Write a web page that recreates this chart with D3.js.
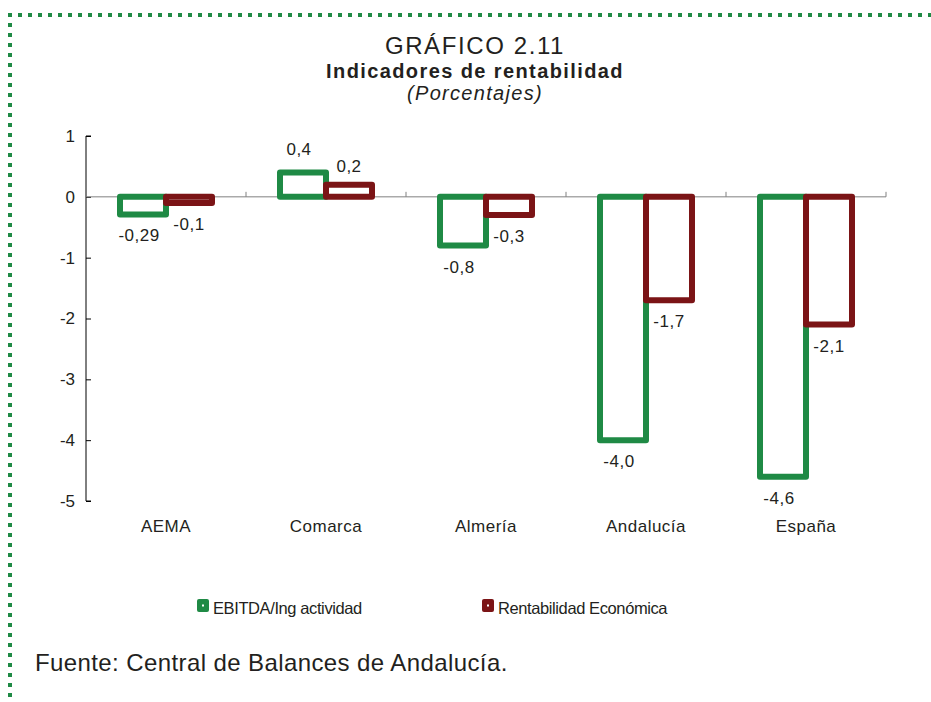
<!DOCTYPE html>
<html>
<head>
<meta charset="utf-8">
<script src="https://cdn.jsdelivr.net/npm/d3@7"></script>
<style>
  html, body { margin: 0; padding: 0; background: #fff; }
  svg { display: block; font-family: "Liberation Sans", Arial, sans-serif; }
</style>
</head>
<body>
<svg id="chart" width="931" height="702"></svg>
<script>
// Categories, series and values
const categories = ["AEMA", "Comarca", "Almería", "Andalucía", "España"];
const seriesNames = ["EBITDA/Ing actividad", "Rentabilidad Económica"];
const ebitda = [-0.29, 0.4, -0.8, -4.0, -4.6];
const rentabilidad = [-0.1, 0.2, -0.3, -1.7, -2.1];
const valueLabelsEbitda = ["-0,29", "0,4", "-0,8", "-4,0", "-4,6"];
const valueLabelsRent = ["-0,1", "0,2", "-0,3", "-1,7", "-2,1"];
const yTicks = [1, 0, -1, -2, -3, -4, -5];

const colors = ["#1f8a45", "#7b1416"];
const textColor = "#231f20";
const svg = d3.select("#chart");

// Dotted frame (top and left)
svg.append("line").attr("x1", 8).attr("x2", 931).attr("y1", 15).attr("y2", 15)
  .attr("stroke", colors[0]).attr("stroke-width", 4).attr("stroke-dasharray", "4 6");
svg.append("line").attr("x1", 10).attr("x2", 10).attr("y1", 13).attr("y2", 702)
  .attr("stroke", colors[0]).attr("stroke-width", 4).attr("stroke-dasharray", "4 6");

// Titles
const cx = 475;
svg.append("text").attr("x", cx).attr("y", 54).attr("text-anchor", "middle")
  .attr("font-size", 24).attr("letter-spacing", 1.6).attr("fill", textColor)
  .text("GRÁFICO 2.11");
svg.append("text").attr("x", cx).attr("y", 78).attr("text-anchor", "middle")
  .attr("font-size", 20).attr("font-weight", "bold").attr("letter-spacing", 1.4).attr("fill", textColor)
  .text("Indicadores de rentabilidad");
svg.append("text").attr("x", cx).attr("y", 100).attr("text-anchor", "middle")
  .attr("font-size", 20).attr("font-style", "italic").attr("letter-spacing", 1.3).attr("fill", textColor)
  .text("(Porcentajes)");

// Scales
const x0 = d3.scaleBand().domain(categories).range([86, 886]).padding(0);
const x1 = d3.scaleBand().domain(seriesNames).range([34, 126]).padding(0);
const y = d3.scaleLinear().domain([-5, 1]).range([501, 136]);

// Y axis (ticks pointing into the plot)
const yAxis = d3.axisRight(y).tickValues(yTicks).tickSize(5).tickFormat(d => String(d));
const gy = svg.append("g").attr("transform", "translate(86,0)").call(yAxis);
gy.select(".domain").attr("stroke", "#000").attr("d", `M5,${y(1)}H0V${y(-5)}H5`);
gy.selectAll(".tick line").attr("stroke", "#000");
gy.selectAll(".tick text").attr("x", -11).attr("text-anchor", "end")
  .attr("font-size", 17).attr("fill", textColor).attr("font-family", "Liberation Sans, Arial, sans-serif");

// Zero line with category separators
svg.append("line").attr("x1", 86).attr("x2", 886).attr("y1", y(0)).attr("y2", y(0))
  .attr("stroke", "#808080").attr("stroke-width", 1);
svg.append("g").selectAll("line").data(categories).join("line")
  .attr("x1", d => x0(d) + x0.bandwidth()).attr("x2", d => x0(d) + x0.bandwidth())
  .attr("y1", y(0)).attr("y2", y(0) - 5).attr("stroke", "#808080");

// Bars (hollow, thick outline)
const rows = categories.map((c, i) => ({
  cat: c,
  vals: [
    { s: seriesNames[0], v: ebitda[i], lab: valueLabelsEbitda[i], k: 0 },
    { s: seriesNames[1], v: rentabilidad[i], lab: valueLabelsRent[i], k: 1 }
  ]
}));

const groups = svg.append("g").selectAll("g").data(rows).join("g")
  .attr("transform", d => `translate(${x0(d.cat)},0)`);

groups.selectAll("rect").data(d => d.vals).join("rect")
  .attr("x", d => x1(d.s))
  .attr("width", x1.bandwidth())
  .attr("y", d => y(Math.max(0, d.v)))
  .attr("height", d => Math.abs(y(d.v) - y(0)))
  .attr("fill", "none")
  .attr("stroke", d => colors[d.k])
  .attr("stroke-width", 6)
  .attr("stroke-linejoin", "round");

// Value labels
groups.selectAll("text").data(d => d.vals).join("text")
  .attr("x", d => x1(d.s) + x1.bandwidth() / 2 + (d.k === 0 ? -4 : 0))
  .attr("y", d => d.v < 0 ? y(d.v) + 27 : y(d.v) - (d.k === 0 ? 18 : 13))
  .attr("text-anchor", "middle")
  .attr("font-size", 17).attr("letter-spacing", 0.5).attr("fill", textColor)
  .text(d => d.lab);

// Category labels
svg.append("g").selectAll("text").data(categories).join("text")
  .attr("x", d => x0(d) + x0.bandwidth() / 2)
  .attr("y", 532)
  .attr("text-anchor", "middle")
  .attr("font-size", 17).attr("letter-spacing", 0.5).attr("fill", textColor)
  .text(d => d);

// Legend
const legendX = [197, 482];
const legend = svg.append("g").selectAll("g").data(seriesNames).join("g")
  .attr("transform", (d, i) => `translate(${legendX[i]},599)`);
legend.append("rect").attr("width", 12).attr("height", 13).attr("rx", 2)
  .attr("fill", (d, i) => colors[i]);
legend.append("rect").attr("x", 5).attr("y", 5.5).attr("width", 2).attr("height", 2).attr("fill", "#fff");
legend.append("text").attr("x", 16).attr("y", 15)
  .attr("font-size", 16.5).attr("letter-spacing", -0.4).attr("fill", textColor)
  .text(d => d);

// Source note
svg.append("text").attr("x", 35).attr("y", 671)
  .attr("font-size", 24).attr("letter-spacing", 0.4).attr("fill", textColor)
  .text("Fuente: Central de Balances de Andalucía.");
</script>
</body>
</html>
